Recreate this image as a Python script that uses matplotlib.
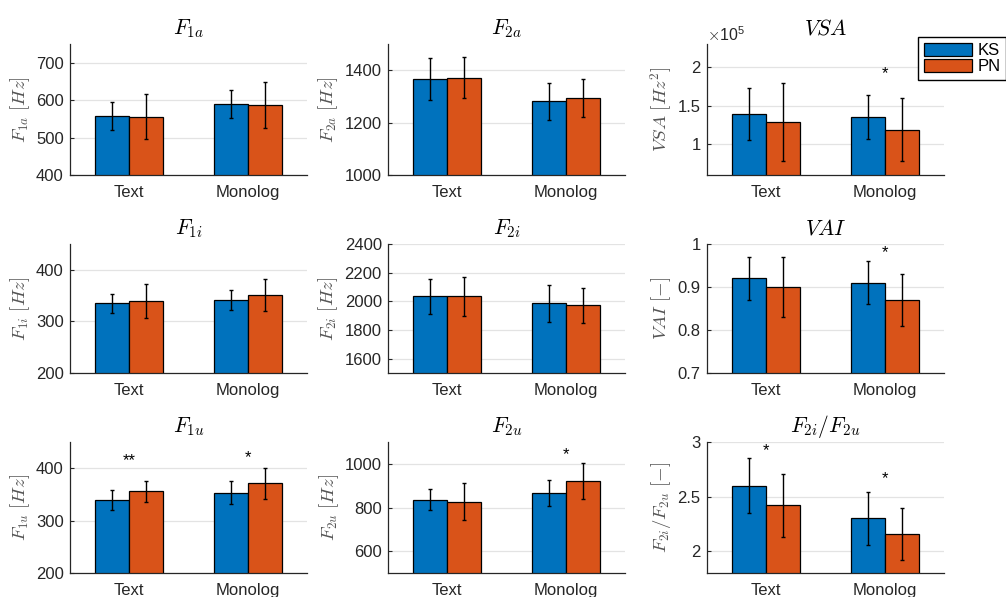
import matplotlib
matplotlib.use("Agg")
from matplotlib import pyplot as plt
from matplotlib.patches import Patch
from matplotlib.ticker import FuncFormatter
import numpy as np

plt.rcParams['font.family'] = ['Liberation Sans', 'DejaVu Sans']
plt.rcParams['mathtext.fontset'] = 'cm'

categories = ['Text', 'Monolog']
groups = ['KS', 'PN']

# means and standard deviations, [Text, Monolog]
f1a_ks, f1a_ks_sd = [558, 590], [38, 37]
f1a_pn, f1a_pn_sd = [556, 587], [60, 61]
f2a_ks, f2a_ks_sd = [1365, 1281], [80, 72]
f2a_pn, f2a_pn_sd = [1372, 1294], [77, 72]
vsa_ks, vsa_ks_sd = [1.39e5, 1.35e5], [0.34e5, 0.285e5]
vsa_pn, vsa_pn_sd = [1.29e5, 1.186e5], [0.51e5, 0.41e5]
f1i_ks, f1i_ks_sd = [335, 342], [19, 19]
f1i_pn, f1i_pn_sd = [339, 351], [33, 31]
f2i_ks, f2i_ks_sd = [2034, 1986], [121, 127]
f2i_pn, f2i_pn_sd = [2034, 1971], [138, 123]
vai_ks, vai_ks_sd = [0.92, 0.91], [0.05, 0.05]
vai_pn, vai_pn_sd = [0.90, 0.87], [0.07, 0.06]
f1u_ks, f1u_ks_sd = [340, 353], [19, 22]
f1u_pn, f1u_pn_sd = [356, 371], [20, 29]
f2u_ks, f2u_ks_sd = [835, 866], [48, 60]
f2u_pn, f2u_pn_sd = [827, 920], [85, 83]
rat_ks, rat_ks_sd = [2.60, 2.30], [0.25, 0.24]
rat_pn, rat_pn_sd = [2.42, 2.16], [0.29, 0.24]

# significance marks: (panel, category, y, text)
stars = [
    (2, 1, 1.92e5, '*'),
    (5, 1, 0.979, '*'),
    (6, 0, 414, '**'),
    (6, 1, 420, '*'),
    (7, 1, 1043, '*'),
    (8, 0, 2.92, '*'),
    (8, 1, 2.66, '*'),
]

panels = [
    (r'$F_{1a}$', r'$F_{1a}\ [Hz]$', f1a_ks, f1a_ks_sd, f1a_pn, f1a_pn_sd, (400, 750), [400, 500, 600, 700]),
    (r'$F_{2a}$', r'$F_{2a}\ [Hz]$', f2a_ks, f2a_ks_sd, f2a_pn, f2a_pn_sd, (1000, 1500), [1000, 1200, 1400]),
    (r'$VSA$', r'$VSA\ [Hz^2]$', vsa_ks, vsa_ks_sd, vsa_pn, vsa_pn_sd, (0.6e5, 2.3e5), [1e5, 1.5e5, 2e5]),
    (r'$F_{1i}$', r'$F_{1i}\ [Hz]$', f1i_ks, f1i_ks_sd, f1i_pn, f1i_pn_sd, (200, 450), [200, 300, 400]),
    (r'$F_{2i}$', r'$F_{2i}\ [Hz]$', f2i_ks, f2i_ks_sd, f2i_pn, f2i_pn_sd, (1500, 2400), [1600, 1800, 2000, 2200, 2400]),
    (r'$VAI$', r'$VAI\ [-]$', vai_ks, vai_ks_sd, vai_pn, vai_pn_sd, (0.7, 1.0), [0.7, 0.8, 0.9, 1.0]),
    (r'$F_{1u}$', r'$F_{1u}\ [Hz]$', f1u_ks, f1u_ks_sd, f1u_pn, f1u_pn_sd, (200, 450), [200, 300, 400]),
    (r'$F_{2u}$', r'$F_{2u}\ [Hz]$', f2u_ks, f2u_ks_sd, f2u_pn, f2u_pn_sd, (500, 1100), [600, 800, 1000]),
    (r'$F_{2i}/F_{2u}$', r'$F_{2i}/F_{2u}\ [-]$', rat_ks, rat_ks_sd, rat_pn, rat_pn_sd, (1.8, 3.0), [2, 2.5, 3]),
]

blue = '#0072BD'
orange = '#D95319'
axcol = '#262626'

fig = plt.figure(figsize=(10.06, 5.97), dpi=100)

W, H = 1006, 597
lefts = [70, 388, 707]
tops = [44, 244, 442]
bottoms = [175, 373, 573]
width = 237

x = np.arange(1, len(categories) + 1)
bw = 0.285

axes = []
for i, (title, ylab, ks, ks_sd, pn, pn_sd, ylim, yt) in enumerate(panels):
    r, c = divmod(i, 3)
    ax = fig.add_axes([lefts[c] / W, 1 - bottoms[r] / H, width / W, (bottoms[r] - tops[r]) / H])
    axes.append(ax)
    ax.bar(x - bw / 2, ks, bw, color=blue, edgecolor='k', linewidth=0.9, zorder=2)
    ax.bar(x + bw / 2, pn, bw, color=orange, edgecolor='k', linewidth=0.9, zorder=2)
    ax.errorbar(x - bw / 2, ks, yerr=ks_sd, fmt='none', ecolor='k', elinewidth=1, capsize=1.5, capthick=1, zorder=3)
    ax.errorbar(x + bw / 2, pn, yerr=pn_sd, fmt='none', ecolor='k', elinewidth=1, capsize=1.5, capthick=1, zorder=3)
    ax.set_xlim(0.5, 2.5)
    ax.set_ylim(*ylim)
    ax.set_yticks(yt)
    ax.yaxis.set_major_formatter(FuncFormatter(lambda v, p: f'{v:g}'))
    ax.set_xticks(x)
    ax.set_xticklabels(categories)
    ax.grid(axis='y', color='#e3e3e3', linewidth=0.9, zorder=0)
    ax.set_axisbelow(True)
    for s in ['top', 'right']:
        ax.spines[s].set_visible(False)
    for s in ['left', 'bottom']:
        ax.spines[s].set_color(axcol)
        ax.spines[s].set_linewidth(0.9)
    ax.tick_params(direction='in', length=3, width=0.8, colors=axcol, labelsize=12)
    ax.tick_params(axis='x', pad=7.5)
    ax.tick_params(axis='y', pad=4.5)
    ax.set_title(title, fontsize=15.5, pad=7)
    ax.set_ylabel(ylab, fontsize=13.5, color='#555555', labelpad=3)

# VSA axis in units of 1e5
axes[2].yaxis.set_major_formatter(FuncFormatter(lambda v, p: f'{v / 1e5:g}'))
axes[2].text(0.0, 1.0, r'$\times\mathdefault{10^{5}}$', transform=axes[2].transAxes,
             fontsize=11.5, color=axcol, ha='left', va='bottom')

for i, ci, y, s in stars:
    axes[i].text(x[ci], y, s, ha='center', va='center', fontsize=12, color='k')

handles = [Patch(facecolor=blue, edgecolor='k', linewidth=0.9),
           Patch(facecolor=orange, edgecolor='k', linewidth=0.9)]
fig.legend(handles, groups, loc='upper left', bbox_to_anchor=(918 / W, 1 - 37 / H),
           fontsize=12, frameon=True, fancybox=False, edgecolor='k', framealpha=1,
           handlelength=2.9, handleheight=0.8, handletextpad=0.3, borderpad=0.35,
           labelspacing=0.05, borderaxespad=0)

fig.savefig('out.png', dpi=100)
